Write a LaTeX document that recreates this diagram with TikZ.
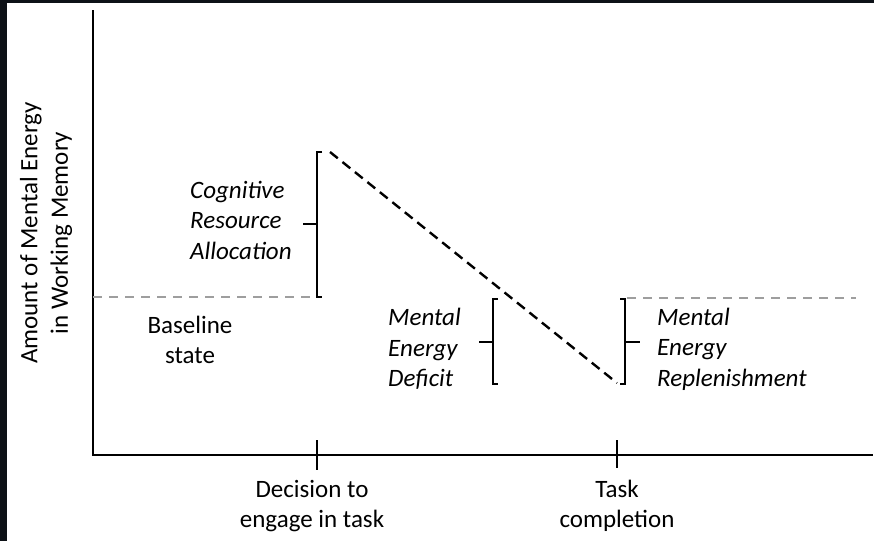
\documentclass[tikz,border=0pt]{standalone}
\usepackage{fontspec}
\setmainfont{Carlito}
\definecolor{frame}{RGB}{13,17,23}
\begin{document}
\begin{tikzpicture}[x=1pt,y=-1pt,
  axis/.style={line width=2pt,black},
  brk/.style={line width=2pt,black},
  base/.style={line width=2pt,color=black!38,dash pattern=on 9pt off 7pt},
  trend/.style={line width=2.4pt,black,dash pattern=on 10pt off 6pt},
  lbl/.style={font=\fontsize{25}{30.5}\selectfont,align=left,inner sep=0pt},
  ilbl/.style={lbl,font=\fontsize{25}{30.5}\selectfont\itshape},
  clbl/.style={lbl,align=center}]
\useasboundingbox (0,0) rectangle (874,541);
\fill[frame] (0,0) rectangle (874,541);
\fill[fill=white] (7,3) rectangle (874,541);
% axes
\coordinate (yt) at (93,10);
\coordinate (org) at (93,455);
\coordinate (xe) at (873,455);
\draw[axis] (yt) -- (org) -- (xe);
% ticks
\coordinate (t1a) at (317,440); \coordinate (t1b) at (317,470);
\coordinate (t2a) at (617,440); \coordinate (t2b) at (617,468);
\draw[axis] (t1a) -- (t1b);
\draw[axis] (t2a) -- (t2b);
% baseline dashes
\coordinate (b1s) at (93,297); \coordinate (b1e) at (317,297);
\coordinate (b2s) at (627,298); \coordinate (b2e) at (856,298);
\draw[base] (b1s) -- (b1e);
\draw[base] (b2s) -- (b2e);
% trend line
\coordinate (p1) at (330,152); \coordinate (p2) at (617,383);
\draw[trend] (p1) -- (p2);
% bracket 1
\draw[brk] (322,152) -- (317,152) -- (317,297) -- (322,297);
\coordinate (k1a) at (303,224); \coordinate (k1b) at (317,224);
\draw[brk] (k1a) -- (k1b);
% bracket 2
\draw[brk] (498,299) -- (493,299) -- (493,384) -- (498,384);
\coordinate (k2a) at (479,342); \coordinate (k2b) at (493,342);
\draw[brk] (k2a) -- (k2b);
% bracket 3
\draw[brk] (620,299) -- (625,299) -- (625,384) -- (620,384);
\coordinate (k3a) at (625,342); \coordinate (k3b) at (640,342);
\draw[brk] (k3a) -- (k3b);
% labels
\node[ilbl,anchor=west] (cra) at (190,220) {Cognitive\\Resource\\Allocation};
\node[clbl] (bs) at (190,340) {Baseline\\state};
\node[ilbl,anchor=west] (med) at (388,349) {Mental\\Energy\\Deficit};
\node[ilbl,anchor=west] (mer) at (657,349) {Mental\\Energy\\Replenishment};
\node[clbl] (dec) at (312,506) {Decision to\\engage in task};
\node[clbl] (tc) at (617,506) {Task\\completion};
\node[clbl,rotate=90] (yl) at (46,233) {Amount of Mental Energy\\in Working Memory};
\end{tikzpicture}
\end{document}
